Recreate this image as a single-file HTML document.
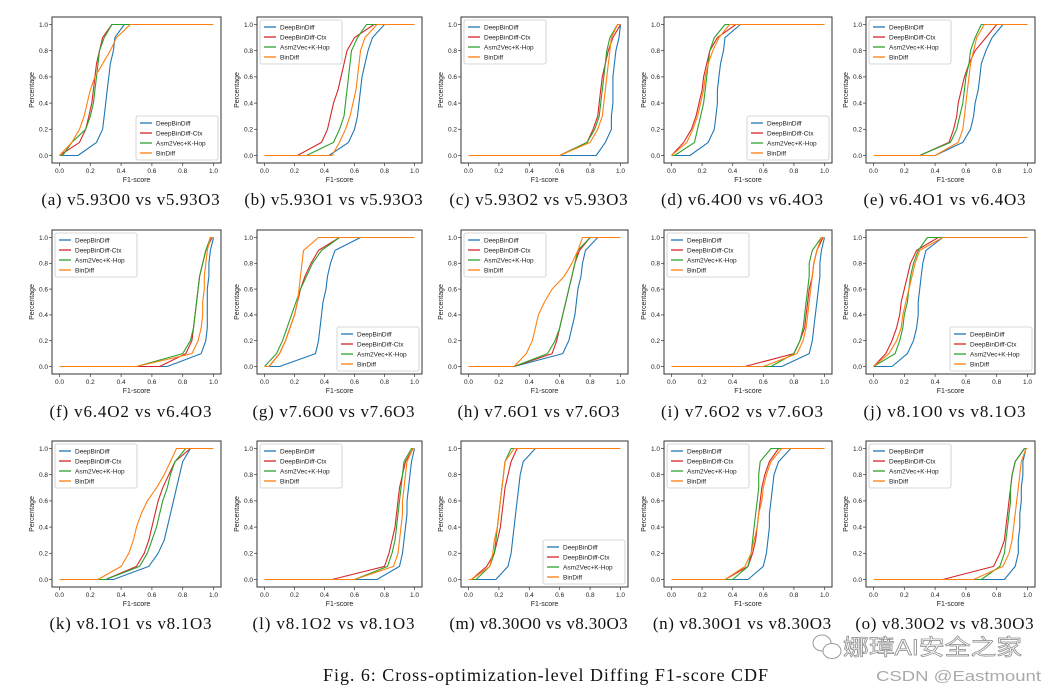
<!DOCTYPE html>
<html><head><meta charset="utf-8"><style>
body{margin:0;background:#fff;width:1057px;height:695px;overflow:hidden;position:relative;font-family:"Liberation Sans",sans-serif}
svg{position:absolute;left:0;top:0}
</style></head><body>
<svg id="fig" width="1057" height="695" viewBox="0 0 1057 695" xmlns="http://www.w3.org/2000/svg"></svg>
<script>
const levels=[0,0.1,0.2,0.3,0.4,0.5,0.6,0.7,0.8,0.9,1.0];
const seriesNames=["DeepBinDiff","DeepBinDiff-Ctx","Asm2Vec+K-Hop","BinDiff"];
const colors=["#1f77b4","#d62728","#2ca02c","#ff7f0e"];
const xTicks=["0.0","0.2","0.4","0.6","0.8","1.0"];
const yTicks=["0.0","0.2","0.4","0.6","0.8","1.0"];
const captions=["(a) v5.93O0 vs v5.93O3","(b) v5.93O1 vs v5.93O3","(c) v5.93O2 vs v5.93O3","(d) v6.4O0 vs v6.4O3","(e) v6.4O1 vs v6.4O3",
"(f) v6.4O2 vs v6.4O3","(g) v7.6O0 vs v7.6O3","(h) v7.6O1 vs v7.6O3","(i) v7.6O2 vs v7.6O3","(j) v8.1O0 vs v8.1O3",
"(k) v8.1O1 vs v8.1O3","(l) v8.1O2 vs v8.1O3","(m) v8.30O0 vs v8.30O3","(n) v8.30O1 vs v8.30O3","(o) v8.30O2 vs v8.30O3"];
const legendBottomRight=[1,0,0,1,0,0,1,0,0,1,0,0,1,0,0];
const deepBinDiff=[
[.12,.24,.28,.29,.30,.31,.32,.33,.35,.36,.42],[.43,.56,.60,.62,.63,.64,.65,.67,.69,.72,.80],[.84,.90,.94,.94,.95,.95,.95,.96,.97,.99,1.0],
[.12,.24,.28,.29,.30,.30,.31,.32,.34,.35,.45],[.40,.58,.63,.65,.66,.68,.69,.70,.73,.77,.84],[.70,.92,.95,.96,.96,.96,.96,.97,.97,.98,1.0],
[.10,.34,.36,.37,.38,.39,.41,.42,.44,.47,.64],[.30,.62,.66,.68,.70,.71,.72,.74,.75,.77,.85],[.72,.90,.92,.93,.94,.95,.96,.97,.97,.98,1.0],
[.12,.22,.26,.28,.29,.29,.30,.31,.32,.34,.45],[.35,.58,.64,.68,.70,.72,.74,.76,.78,.80,.85],[.75,.90,.92,.93,.94,.95,.95,.96,.97,.98,1.0],
[.18,.26,.28,.29,.30,.31,.32,.33,.34,.36,.44],[.50,.60,.62,.63,.64,.64,.65,.66,.67,.70,.78],[.85,.92,.94,.94,.95,.95,.96,.96,.97,.97,.99]];
const deepBinDiffCtx=[
[0,.13,.17,.19,.21,.22,.23,.24,.26,.28,.34],[.22,.38,.42,.44,.46,.49,.51,.53,.55,.60,.73],[.60,.78,.82,.85,.86,.87,.88,.90,.92,.95,1.0],
[0,.08,.13,.16,.18,.20,.21,.23,.25,.30,.42],[.30,.49,.52,.54,.55,.57,.59,.62,.66,.73,.80],[.65,.82,.86,.87,.88,.89,.90,.91,.93,.95,.99],
[.03,.10,.14,.17,.20,.22,.24,.27,.31,.36,.50],[.30,.55,.58,.60,.62,.64,.66,.68,.70,.73,.80],[.48,.80,.84,.87,.88,.89,.90,.92,.93,.95,.99],
[0,.08,.12,.15,.17,.18,.20,.22,.24,.28,.42],[.30,.50,.55,.58,.60,.62,.64,.67,.71,.75,.85],[.45,.80,.83,.85,.87,.88,.89,.90,.92,.94,.99],
[.02,.12,.17,.19,.21,.22,.23,.24,.26,.28,.32],[.35,.50,.53,.55,.56,.57,.58,.59,.61,.64,.70],[.45,.78,.82,.85,.86,.87,.88,.89,.90,.92,.98]];
const asm2vec=[
[.02,.08,.17,.20,.22,.23,.24,.25,.26,.29,.34],[.28,.46,.50,.53,.54,.55,.56,.57,.58,.62,.68],[.60,.78,.83,.86,.87,.88,.89,.90,.91,.93,.98],
[.02,.15,.17,.19,.21,.22,.23,.24,.25,.28,.35],[.30,.50,.54,.56,.58,.59,.60,.62,.63,.66,.70],[.50,.80,.85,.87,.88,.89,.90,.91,.93,.95,.98],
[0,.08,.12,.15,.18,.21,.24,.28,.32,.38,.50],[.30,.52,.57,.60,.62,.64,.66,.68,.70,.72,.80],[.65,.80,.84,.86,.87,.88,.89,.90,.90,.92,.98],
[0,.14,.17,.19,.20,.22,.23,.24,.26,.29,.35],[.30,.52,.57,.60,.63,.65,.67,.70,.72,.75,.82],[.60,.82,.85,.87,.88,.89,.90,.91,.92,.93,.98],
[.05,.14,.17,.18,.19,.20,.21,.22,.23,.24,.28],[.40,.50,.52,.53,.54,.55,.56,.57,.57,.58,.65],[.70,.82,.85,.86,.87,.88,.89,.89,.90,.92,.98]];
const binDiff=[
[0,.08,.13,.16,.18,.20,.23,.28,.33,.37,.46],[.45,.50,.54,.57,.59,.61,.62,.63,.64,.67,.75],[.60,.80,.85,.88,.89,.90,.91,.92,.93,.94,.98],
[0,.10,.14,.17,.19,.21,.22,.24,.27,.31,.38],[.40,.55,.58,.59,.60,.61,.62,.63,.65,.67,.72],[.50,.86,.90,.92,.93,.93,.94,.94,.95,.96,.98],
[.03,.10,.14,.17,.20,.22,.23,.24,.25,.26,.36],[.30,.38,.42,.44,.46,.50,.55,.63,.68,.72,.75],[.60,.82,.86,.88,.89,.90,.91,.92,.93,.95,.98],
[0,.10,.15,.18,.19,.21,.23,.25,.27,.30,.45],[.25,.40,.45,.48,.50,.53,.57,.63,.68,.72,.76],[.60,.86,.89,.90,.91,.92,.92,.93,.94,.95,.99],
[.02,.14,.16,.17,.19,.20,.21,.22,.23,.24,.30],[.35,.48,.52,.54,.56,.57,.59,.60,.62,.65,.72],[.65,.84,.88,.90,.91,.92,.93,.94,.95,.96,.99]];

const NS="http://www.w3.org/2000/svg";
const svg=document.getElementById('fig');
function mk(tag,attrs,parent,text){const e=document.createElementNS(NS,tag);for(const k in attrs)e.setAttribute(k,attrs[k]);if(text!==undefined)e.textContent=text;(parent||svg).appendChild(e);return e;}
const colLeft=[52,257,461,664,866], colW=[169,165,167,168,169];
const rowTop=[17,230,441], rowH=[146,144,146], capY=[205,417,629];
const allSeries=[deepBinDiff,deepBinDiffCtx,asm2vec,binDiff];

for(let p=0;p<15;p++){
  const r=Math.floor(p/5), c=p%5;
  const L=colLeft[c], T=rowTop[r], W=colW[c], H=rowH[r];
  const g=mk('g',{});
  
  
  const xs=v=>L+7.5+v*(W-15);
  const ys=v=>T+H-7.5-v*(H-15);
  xTicks.forEach((t,i)=>{const x=xs(i*0.2);mk('line',{x1:x,x2:x,y1:T+H,y2:T+H+3,stroke:'#333','stroke-width':0.7},g);
    const tl=mk('text',{x:x,y:T+H+10,'font-size':6.5,'text-anchor':'middle',fill:'#222'},g,t);
    });
  yTicks.forEach((t,i)=>{const y=ys(i*0.2);mk('line',{x1:L-3,x2:L,y1:y,y2:y,stroke:'#333','stroke-width':0.7},g);
    const tl=mk('text',{x:L-4,y:y+2.3,'font-size':6.5,'text-anchor':'end',fill:'#222'},g,t);
    });
  const xt=mk('text',{x:L+W/2,y:T+H+19,'font-size':7,'text-anchor':'middle',fill:'#222'},g,'F1-score');
  
  const yt=mk('text',{x:0,y:0,'font-size':7,'text-anchor':'middle',fill:'#222',transform:`translate(${L-18},${T+H/2}) rotate(-90)`},g,'Percentage');
  
  for(let s=0;s<4;s++){
    const q=allSeries[s][p];
    let pts=[[xs(0),ys(0)]];
    q.forEach((v,i)=>pts.push([xs(v),ys(levels[i])]));
    pts.push([xs(1),ys(1)]);
    const pl=mk('polyline',{points:pts.map(a=>a[0].toFixed(1)+','+a[1].toFixed(1)).join(' '),fill:'none',stroke:colors[s],'stroke-width':1.1,'stroke-linejoin':'round'},g);
    
    
  }
  const fr=mk('rect',{x:L,y:T,width:W,height:H,fill:'none',stroke:'#333','stroke-width':1},g);
  
  const lw=82, lh=44;
  const lx=legendBottomRight[p]?L+W-lw-3:L+3, ly=legendBottomRight[p]?T+H-lh-3:T+3;
  const lg=mk('g',{},g);
  
  mk('rect',{x:lx,y:ly,width:lw,height:lh,fill:'#fff',stroke:'#ccc','stroke-width':0.8,rx:2},lg);
  for(let s=0;s<4;s++){const yy=ly+7+s*10;
    mk('line',{x1:lx+4,x2:lx+16,y1:yy,y2:yy,stroke:colors[s],'stroke-width':1.3},lg);
    const et=mk('text',{x:lx+20,y:yy+2.3,'font-size':6.5,fill:'#222'},lg,seriesNames[s]);
    }
  const capW=captions[p].length*8.1;
  const cp=mk('text',{x:L+W/2-6-capW/2,y:capY[r],'font-size':17,'font-family':'Liberation Serif, serif',fill:'#111',textLength:capW,lengthAdjust:'spacing'},svg,captions[p]);
  
}
const fc=mk('text',{x:323,y:681,'font-size':18,'font-family':'Liberation Serif, serif',fill:'#111',textLength:445,lengthAdjust:'spacing'},svg,'Fig. 6: Cross-optimization-level Diffing F1-score CDF');

const wi=mk('g',{stroke:'#999',fill:'#fff','stroke-width':1});

mk('ellipse',{cx:822,cy:643,rx:9,ry:8},wi);mk('ellipse',{cx:832,cy:651,rx:9,ry:7.5},wi);
const wt=mk('text',{x:843,y:655,'font-size':22,fill:'#fff',stroke:'#888','stroke-width':0.7,'font-family':'Liberation Sans, Noto Sans CJK SC, sans-serif',textLength:179,lengthAdjust:'spacingAndGlyphs'},svg,'娜璋AI安全之家');

const cs=mk('text',{x:876,y:681,'font-size':15,fill:'#aaa',textLength:165,lengthAdjust:'spacingAndGlyphs'},svg,'CSDN @Eastmount');

</script>
</body></html>
